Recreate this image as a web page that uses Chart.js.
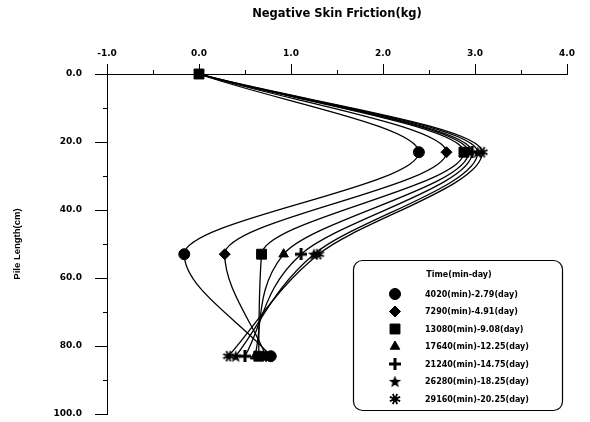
<!DOCTYPE html>
<html>
<head>
<meta charset="utf-8">
<title>Negative Skin Friction</title>
<script src="https://cdn.jsdelivr.net/npm/chart.js@4.4.0/dist/chart.umd.min.js"></script>
<style>
    html, body { margin: 0; padding: 0; background: #fff; }
    #friction { display: block; }
</style>
</head>
<body>
<canvas id="friction" width="590" height="422"></canvas>
<script>
// ===== Data =====
const depths = [0, 23, 53, 83];   // cm along the pile

const seriesLabels = [
    '4020(min)-2.79(day)',
    '7290(min)-4.91(day)',
    '13080(min)-9.08(day)',
    '17640(min)-12.25(day)',
    '21240(min)-14.75(day)',
    '26280(min)-18.25(day)',
    '29160(min)-20.25(day)'
];

const friction4020  = [0.0, 2.39, -0.16, 0.78];
const friction7290  = [0.0, 2.69,  0.28, 0.73];
const friction13080 = [0.0, 2.88,  0.68, 0.65];
const friction17640 = [0.0, 2.93,  0.92, 0.61];
const friction21240 = [0.0, 2.97,  1.11, 0.50];
const friction26280 = [0.0, 3.03,  1.25, 0.40];
const friction29160 = [0.0, 3.08,  1.30, 0.32];

const xTickValues = [-1, 0, 1, 2, 3, 4];
const xMinorTicks = [-0.5, 0.5, 1.5, 2.5, 3.5];
const yTickValues = [0, 20, 40, 60, 80, 100];
const yMinorTicks = [10, 30, 50, 70, 90];

// ===== Marker shapes =====
function makeMarker(size, drawFn) {
    const c = document.createElement('canvas');
    c.width = size;
    c.height = size;
    const g = c.getContext('2d');
    g.fillStyle = '#000';
    g.strokeStyle = '#000';
    drawFn(g, size / 2);
    return c;
}

const plusMarker = makeMarker(12, (g, m) => {
    g.fillRect(0, m - 1.5, 12, 3);
    g.fillRect(m - 1.5, 0, 3, 12);
});

const starMarker = makeMarker(13, (g, m) => {
    g.beginPath();
    for (let i = 0; i < 10; i++) {
        const r = i % 2 ? 2.7 : 6.4;
        const a = -Math.PI / 2 + i * Math.PI / 5;
        g.lineTo(m + r * Math.cos(a), m + 0.5 + r * Math.sin(a));
    }
    g.closePath();
    g.fill();
});

const burstMarker = makeMarker(12, (g, m) => {
    g.lineWidth = 1.8;
    for (let i = 0; i < 8; i++) {
        const a = i * Math.PI / 4 + Math.PI / 8;
        g.beginPath();
        g.moveTo(m, m);
        g.lineTo(m + 5.6 * Math.cos(a), m + 5.6 * Math.sin(a));
        g.stroke();
    }
    g.beginPath();
    g.arc(m, m, 2.6, 0, 2 * Math.PI);
    g.fill();
});

const seriesValues = [friction4020, friction7290, friction13080, friction17640,
                      friction21240, friction26280, friction29160];
const seriesStyles = ['circle', 'rectRot', 'rect', 'triangle', plusMarker, starMarker, burstMarker];
const seriesRadius = [5.5, 5.5, 7, 5.5, 6, 6, 6];

// only one marker is drawn at the pile head, the rest sit underneath it
const headMarkerSeries = 2;

const datasets = seriesValues.map((vals, i) => ({
    label: seriesLabels[i],
    data: depths.map((d, j) => ({ x: vals[j], y: d })),
    showLine: true,
    borderColor: '#000',
    backgroundColor: '#000',
    borderWidth: 1.3,
    cubicInterpolationMode: 'monotone',
    pointStyle: seriesStyles[i],
    pointRadius: ctx => (ctx.dataIndex === 0 && i !== headMarkerSeries) ? 0 : seriesRadius[i],
    pointBackgroundColor: '#000',
    pointBorderColor: '#000',
    pointBorderWidth: 1,
    clip: false
}));

// ===== Fonts =====
const tickFont = { family: 'DejaVu Sans', size: 9, weight: 'bold' };
const titleFont = { family: 'DejaVu Sans', size: 11.5, weight: 'bold' };

// ===== Minor ticks and legend box =====
const minorTicks = {
    id: 'minorTicks',
    afterDraw(chart) {
        const ctx = chart.ctx;
        const xs = chart.scales.x;
        const ys = chart.scales.y;
        const area = chart.chartArea;
        ctx.save();
        ctx.strokeStyle = '#000';
        ctx.lineWidth = 1;
        ctx.beginPath();
        xMinorTicks.forEach(v => {
            const px = Math.round(xs.getPixelForValue(v)) + 0.5;
            ctx.moveTo(px, area.top);
            ctx.lineTo(px, area.top - 4);
        });
        yMinorTicks.forEach(v => {
            const py = Math.round(ys.getPixelForValue(v)) + 0.5;
            ctx.moveTo(area.left, py);
            ctx.lineTo(area.left - 4, py);
        });
        ctx.stroke();
        ctx.restore();
    }
};

const legendBox = {
    id: 'legendBox',
    afterDraw(chart) {
        const ctx = chart.ctx;
        const left = 353.5, top = 260.5, w = 209, h = 150;
        ctx.save();
        ctx.fillStyle = '#fff';
        ctx.strokeStyle = '#000';
        ctx.lineWidth = 1.2;
        ctx.beginPath();
        ctx.roundRect(left, top, w, h, 9);
        ctx.fill();
        ctx.stroke();

        ctx.fillStyle = '#000';
        ctx.font = 'bold 8px "DejaVu Sans"';
        ctx.textBaseline = 'middle';
        ctx.textAlign = 'center';
        ctx.fillText('Time(min-day)', 459, 275);

        ctx.textAlign = 'left';
        seriesLabels.forEach((label, i) => {
            const y = 294 + i * 17.5;
            const meta = chart.getDatasetMeta(i);
            const opts = meta.data[1].options;
            ctx.fillStyle = '#000';
            ctx.strokeStyle = '#000';
            ctx.lineWidth = 1;
            Chart.helpers.drawPoint(ctx, {
                pointStyle: opts.pointStyle,
                radius: opts.radius,
                rotation: 0,
                borderWidth: 1
            }, 395, y);
            ctx.fillStyle = '#000';
            ctx.fillText(label, 425, y + 0.5);
        });
        ctx.restore();
    }
};

// ===== Chart =====
new Chart(document.getElementById('friction'), {
    type: 'scatter',
    data: { datasets: datasets },
    options: {
        indexAxis: 'y',   // depth runs down the page, so smooth along y
        responsive: false,
        devicePixelRatio: 1,
        animation: false,
        layout: { padding: { left: 0, right: 23, top: 0, bottom: 4 } },
        plugins: {
            legend: { display: false },
            tooltip: { enabled: false }
        },
        scales: {
            x: {
                type: 'linear',
                position: 'top',
                min: -1,
                max: 4,
                afterBuildTicks: s => { s.ticks = xTickValues.map(v => ({ value: v })); },
                afterFit: s => { s.height = 74; s.paddingLeft = 0; s.paddingRight = 0; },
                ticks: {
                    callback: v => v.toFixed(1),
                    font: tickFont,
                    color: '#000',
                    padding: 5,
                    maxRotation: 0
                },
                grid: { drawOnChartArea: false, tickLength: 10, color: '#000', lineWidth: 1 },
                border: { color: '#000', width: 1 },
                title: {
                    display: true,
                    text: 'Negative Skin Friction(kg)',
                    font: titleFont,
                    color: '#000',
                    padding: { top: 7, bottom: 0 }
                }
            },
            y: {
                type: 'linear',
                position: 'left',
                reverse: true,
                min: 0,
                max: 100,
                afterBuildTicks: s => { s.ticks = yTickValues.map(v => ({ value: v })); },
                afterFit: s => { s.width = 107; s.paddingTop = 0; s.paddingBottom = 0; },
                ticks: {
                    callback: v => v.toFixed(1),
                    font: tickFont,
                    color: '#000',
                    padding: 13
                },
                grid: { drawOnChartArea: false, tickLength: 12, color: '#000', lineWidth: 1 },
                border: { color: '#000', width: 1 },
                title: {
                    display: true,
                    text: 'Pile Length(cm)',
                    font: { family: 'Liberation Sans', size: 9.5, weight: 'bold' },
                    color: '#000',
                    padding: { top: 12, bottom: 0 }
                }
            }
        }
    },
    plugins: [minorTicks, legendBox]
});
</script>
</body>
</html>
